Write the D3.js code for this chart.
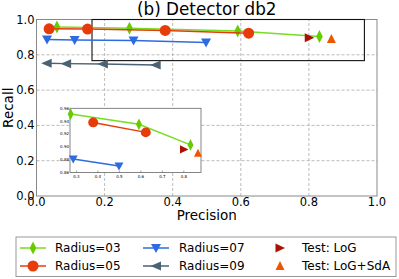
<!DOCTYPE html>
<html>
<head>
<meta charset="utf-8">
<script src="https://cdn.jsdelivr.net/npm/d3@7"></script>
<style>
body { margin: 0; background: #fff; }
text { font-family: "DejaVu Sans", sans-serif; }
</style>
</head>
<body>
<script>
// precision / recall
var r03P = [0.06, 0.273, 0.591, 0.831], r03R = [0.957, 0.951, 0.935, 0.903];
var r05P = [0.037, 0.15, 0.378, 0.623], r05R = [0.947, 0.946, 0.938, 0.9225];
var r07P = [0.031, 0.112, 0.285, 0.498], r07R = [0.886, 0.884, 0.881, 0.870];
var r09P = [0.03, 0.087, 0.195, 0.35], r09R = [0.752, 0.750, 0.748, 0.742];
var logPt = [0.801, 0.896];
var sdaPt = [0.866, 0.890];
var mainTicks = [0, 0.2, 0.4, 0.6, 0.8, 1.0];
var insetXTicks = [0.3, 0.4, 0.5, 0.6, 0.7, 0.8];
var insetYTicks = [0.86, 0.88, 0.90, 0.92, 0.94, 0.96];
var zoomBox = [0.163, 0.963, 0.767, 1.0];

function pts(P, R) { return P.map(function (p, i) { return [p, R[i]]; }); }

var series = [
    {name: 'Radius=03', pts: pts(r03P, r03R), color: '#66cc00', line: '#77dd22', m: 'diamond', inset: 1},
    {name: 'Radius=05', pts: pts(r05P, r05R), color: '#e63c0c', line: '#e63c0c', m: 'circle', inset: 2},
    {name: 'Radius=07', pts: pts(r07P, r07R), color: '#2f6be0', line: '#2f6be0', m: 'down', inset: 2},
    {name: 'Radius=09', pts: pts(r09P, r09R), color: '#4a6272', line: '#4a6272', m: 'left', inset: 4}
];
var singles = [
    {name: 'Test: LoG', pt: logPt, color: '#aa1100', m: 'right'},
    {name: 'Test: LoG+SdA', pt: sdaPt, color: '#ee5500', m: 'up'}
];

function marker(type, s) {
    s = s || 1;
    var p;
    if (type === 'circle') return d3.symbol().type(d3.symbolCircle).size(95 * s * s)();
    if (type === 'diamond') p = [[0, -6.5], [3.3, 0], [0, 6.5], [-3.3, 0]];
    if (type === 'down') p = [[-5, -4], [5, -4], [0, 5]];
    if (type === 'up') p = [[-4.5, 4], [4.5, 4], [0, -5]];
    if (type === 'left') p = [[5, -4.5], [5, 4.5], [-5.5, 0]];
    if (type === 'right') p = [[-4.5, -4.5], [-4.5, 4.5], [5, 0]];
    return 'M' + p.map(function (q) { return [q[0] * s, q[1] * s].join(','); }).join('L') + 'Z';
}

var svg = d3.select('body').append('svg').attr('width', 399).attr('height', 279);

var x = d3.scaleLinear().domain([0, 1]).range([36.5, 377]);
var y = d3.scaleLinear().domain([0, 1]).range([196, 19.5]);

// grid
svg.selectAll('.gx').data(mainTicks.slice(1, -1)).enter().append('line')
    .attr('x1', function (d) { return x(d); }).attr('x2', function (d) { return x(d); })
    .attr('y1', y(0)).attr('y2', y(1))
    .attr('stroke', '#aaa').attr('stroke-width', 0.8).attr('stroke-dasharray', '3,2');
svg.selectAll('.gy').data(mainTicks.slice(1, -1)).enter().append('line')
    .attr('y1', function (d) { return y(d); }).attr('y2', function (d) { return y(d); })
    .attr('x1', x(0)).attr('x2', x(1))
    .attr('stroke', '#aaa').attr('stroke-width', 0.8).attr('stroke-dasharray', '3,2');

svg.append('rect').attr('x', x(0)).attr('y', y(1)).attr('width', x(1) - x(0)).attr('height', y(0) - y(1))
    .attr('fill', 'none').attr('stroke', '#888').attr('stroke-width', 1);

// tick labels
svg.selectAll('.tx').data(mainTicks).enter().append('text')
    .attr('x', function (d) { return x(d); }).attr('y', 205.5)
    .attr('text-anchor', 'middle').attr('font-size', 11.5)
    .text(function (d) { return d.toFixed(1); });
svg.selectAll('.ty').data(mainTicks).enter().append('text')
    .attr('x', 34.5).attr('y', function (d) { return y(d) + 4; })
    .attr('text-anchor', 'end').attr('font-size', 11.5)
    .text(function (d) { return d.toFixed(1); });

svg.append('text').attr('x', (x(0) + x(1)) / 2).attr('y', 220).attr('text-anchor', 'middle')
    .attr('font-size', 13.5).text('Precision');
svg.append('text').attr('transform', 'translate(13,' + y(0.5) + ') rotate(-90)').attr('text-anchor', 'middle')
    .attr('font-size', 13.5).text('Recall');
svg.append('text').attr('x', (x(0) + x(1)) / 2).attr('y', 15).attr('text-anchor', 'middle')
    .attr('font-size', 16.8).text('(b) Detector db2');

// zoom box
svg.append('rect').attr('x', x(zoomBox[0])).attr('y', y(zoomBox[3]))
    .attr('width', x(zoomBox[1]) - x(zoomBox[0])).attr('height', y(zoomBox[2]) - y(zoomBox[3]))
    .attr('fill', 'none').attr('stroke', '#111').attr('stroke-width', 1.1);

function drawSeries(g, sx, sy, list, s) {
    var line = d3.line().x(function (d) { return sx(d[0]); }).y(function (d) { return sy(d[1]); });
    list.forEach(function (d) {
        g.append('path').attr('d', line(d.pts)).attr('fill', 'none')
            .attr('stroke', d.line).attr('stroke-width', 1.5);
        g.selectAll(null).data(d.pts).enter().append('path')
            .attr('transform', function (p) { return 'translate(' + sx(p[0]) + ',' + sy(p[1]) + ')'; })
            .attr('d', marker(d.m, s)).attr('fill', d.color);
    });
    singles.forEach(function (d) {
        g.append('path').attr('transform', 'translate(' + sx(d.pt[0]) + ',' + sy(d.pt[1]) + ')')
            .attr('d', marker(d.m, s)).attr('fill', d.color);
    });
}

drawSeries(svg.append('g'), x, y, series, 1);

// inset
var ix = d3.scaleLinear().domain([0.27, 0.88]).range([70, 201]);
var iy = d3.scaleLinear().domain([0.86, 0.96]).range([172.5, 108.3]);
var inset = svg.append('g');
inset.append('rect').attr('x', 70).attr('y', 108.3).attr('width', 131).attr('height', 64.2)
    .attr('fill', '#fff').attr('stroke', '#666').attr('stroke-width', 0.8);
var insetSeries = series.filter(function (d) { return d.inset < d.pts.length; })
    .map(function (d) { return Object.assign({}, d, {pts: d.pts.slice(d.inset)}); });
drawSeries(inset, ix, iy, insetSeries, 0.9);
inset.selectAll('.ix').data(insetXTicks).enter().append('text')
    .attr('x', function (d) { return ix(d); }).attr('y', 177.5).attr('text-anchor', 'middle')
    .attr('font-size', 4).text(function (d) { return d.toFixed(1); });
inset.selectAll('.iy').data(insetYTicks).enter().append('text')
    .attr('x', 69).attr('y', function (d) { return iy(d) + 1.5; }).attr('text-anchor', 'end')
    .attr('font-size', 4).text(function (d) { return d.toFixed(2); });
inset.selectAll('.ixt').data(insetXTicks).enter().append('line')
    .attr('x1', function (d) { return ix(d); }).attr('x2', function (d) { return ix(d); })
    .attr('y1', 172.5).attr('y2', 170.5).attr('stroke', '#666').attr('stroke-width', 0.6);

// legend
var leg = svg.append('g');
leg.append('rect').attr('x', 16).attr('y', 237).attr('width', 380).attr('height', 39.5)
    .attr('fill', '#fff').attr('stroke', '#999').attr('stroke-width', 1);
var legItems = series.map(function (d, i) {
    return {name: d.name, color: d.color, line: d.line, m: d.m, col: Math.floor(i / 2), row: i % 2};
}).concat(singles.map(function (d, i) {
    return {name: d.name, color: d.color, m: d.m, col: 2, row: i};
}));
var colX = [33, 156, 280];
var textX = [55, 179, 302];
var rowY = [248, 266];
legItems.forEach(function (d) {
    var cx = colX[d.col], cy = rowY[d.row];
    if (d.line) {
        leg.append('line').attr('x1', cx - 13).attr('x2', cx + 13).attr('y1', cy).attr('y2', cy)
            .attr('stroke', d.line).attr('stroke-width', 1.5);
    }
    leg.append('path').attr('transform', 'translate(' + cx + ',' + cy + ')')
        .attr('d', marker(d.m, 1)).attr('fill', d.color);
    leg.append('text').attr('x', textX[d.col]).attr('y', cy + 4.3).attr('font-size', 12).text(d.name);
});
</script>
</body>
</html>
